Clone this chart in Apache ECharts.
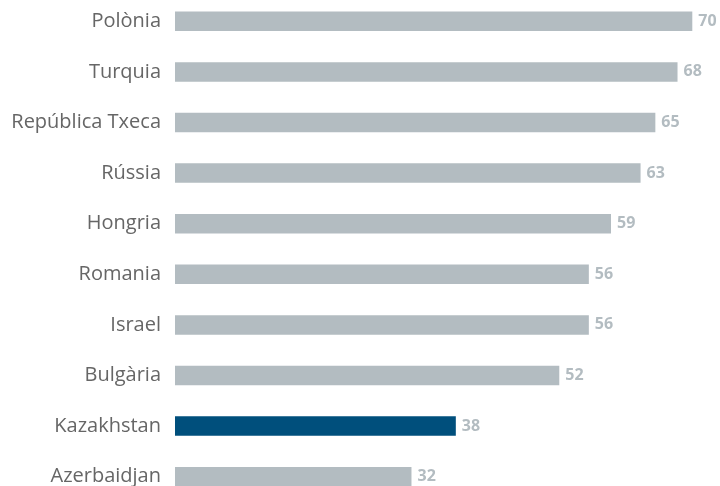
<!DOCTYPE html>
<html><head><meta charset="utf-8">
<script src="https://cdn.jsdelivr.net/npm/echarts@6/dist/echarts.min.js"></script>
<style>html,body{margin:0;padding:0;background:#fff;overflow:hidden;width:720px;height:486px}#c{position:absolute;left:0;top:-3.8px;width:720px;height:505.7px}</style>
</head><body><div id="c"></div>
<script>
const categories = ["Polònia","Turquia","República Txeca","Rússia","Hongria","Romania","Israel","Bulgària","Kazakhstan","Azerbaidjan"];
const values = [70,68,65,63,59,56,56,52,38,32];
const highlight = "Kazakhstan";
const chart = echarts.init(document.getElementById('c'));
chart.setOption({
  animation:false,
  grid:{left:175,right:27.7,top:0,bottom:0,containLabel:false},
  xAxis:{type:'value',min:0,max:70,show:false},
  yAxis:{type:'category',data:categories,inverse:true,
    axisLine:{show:false},axisTick:{show:false},
    axisLabel:{color:'#666',fontSize:20,fontFamily:'Open Sans',margin:14}},
  series:[{type:'bar',barWidth:19.5,
    data:values.map((v,i)=>({value:v,itemStyle:{color:categories[i]===highlight?'#004f7c':'#b3bcc1'}})),
    label:{show:true,position:'right',distance:6,color:'#b3bcc1',fontWeight:'bold',fontSize:16,fontFamily:'Open Sans'}}]
});
</script></body></html>
